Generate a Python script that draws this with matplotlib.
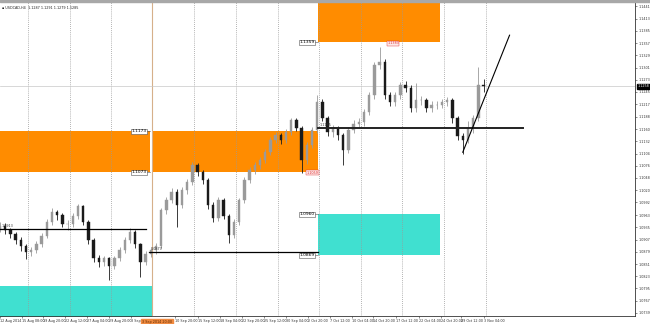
import matplotlib
matplotlib.use('Agg')
import matplotlib.pyplot as plt
from matplotlib.patches import Rectangle

#### USDCAD H4, one candle per 4 bars ####
first_open = 1.0930
closes = [1.0938, 1.0929, 1.0919, 1.0906, 1.0892, 1.0878, 1.0883, 1.0896, 1.0915, 1.0947,
          1.0970, 1.0963, 1.0942, 1.0942, 1.0961, 1.0983, 1.0947, 1.0906, 1.0864, 1.0855,
          1.0864, 1.0846, 1.0864, 1.0883, 1.0906, 1.0924, 1.0896, 1.0855, 1.0874, 1.0883,
          1.0892, 1.0974, 1.0997, 1.1016, 1.0986, 1.1020, 1.1038, 1.1077, 1.1061, 1.1043,
          1.0986, 1.0956, 1.0997, 1.0961, 1.0917, 1.0947, 1.0997, 1.1043, 1.1066, 1.1077,
          1.1089, 1.1107, 1.1135, 1.1146, 1.1135, 1.1153, 1.1180, 1.1162, 1.1089, 1.1123,
          1.1158, 1.1222, 1.1185, 1.1153, 1.1162, 1.1146, 1.1112, 1.1158, 1.1171, 1.1176,
          1.1199, 1.1238, 1.1306, 1.1313, 1.1238, 1.1222, 1.1238, 1.1261, 1.1254, 1.1208,
          1.1226, 1.1226, 1.1208, 1.1215, 1.1215, 1.1222, 1.1226, 1.1185, 1.1144, 1.1135,
          1.1162, 1.1185, 1.1261, 1.1258]
highs = [1.0948, 1.0945, 1.0933, 1.0924, 1.0912, 1.0897, 1.0890, 1.0903, 1.0921, 1.0953,
         1.0979, 1.0975, 1.0968, 1.0952, 1.0968, 1.0988, 1.0987, 1.0952, 1.0910, 1.0872,
         1.0870, 1.0868, 1.0870, 1.0890, 1.0912, 1.0933, 1.0930, 1.0900, 1.0880, 1.0890,
         1.0900, 1.0980, 1.1005, 1.1024, 1.1022, 1.1027, 1.1045, 1.1084, 1.1083, 1.1067,
         1.1048, 1.0992, 1.1004, 1.1003, 1.0966, 1.0953, 1.1003, 1.1050, 1.1073, 1.1085,
         1.1096, 1.1114, 1.1142, 1.1154, 1.1152, 1.1160, 1.1185, 1.1186, 1.1168, 1.1130,
         1.1165, 1.1238, 1.1230, 1.1190, 1.1170, 1.1168, 1.1152, 1.1165, 1.1180, 1.1185,
         1.1206, 1.1245, 1.1314, 1.1348, 1.1320, 1.1245, 1.1246, 1.1268, 1.1270, 1.1260,
         1.1265, 1.1235, 1.1232, 1.1224, 1.1225, 1.1230, 1.1234, 1.1232, 1.1190, 1.1150,
         1.1178, 1.1192, 1.1302, 1.1275]
lows = [1.0924, 1.0920, 1.0910, 1.0898, 1.0880, 1.0862, 1.0870, 1.0876, 1.0890, 1.0910,
        1.0940, 1.0952, 1.0935, 1.0930, 1.0936, 1.0955, 1.0940, 1.0898, 1.0855, 1.0845,
        1.0846, 1.0814, 1.0840, 1.0858, 1.0876, 1.0900, 1.0888, 1.0821, 1.0848, 1.0866,
        1.0875, 1.0886, 1.0965, 1.0990, 1.0935, 1.0980, 1.1012, 1.1032, 1.1052, 1.1035,
        1.0978, 1.0948, 1.0950, 1.0954, 1.0899, 1.0910, 1.0940, 1.0990, 1.1036, 1.1058,
        1.1068, 1.1082, 1.1100, 1.1128, 1.1126, 1.1128, 1.1146, 1.1155, 1.1060, 1.1080,
        1.1116, 1.1150, 1.1178, 1.1145, 1.1142, 1.1136, 1.1078, 1.1105, 1.1150, 1.1162,
        1.1168, 1.1192, 1.1230, 1.1298, 1.1230, 1.1212, 1.1214, 1.1230, 1.1245, 1.1200,
        1.1200, 1.1215, 1.1198, 1.1200, 1.1205, 1.1208, 1.1214, 1.1175, 1.1135, 1.1103,
        1.1128, 1.1150, 1.1178, 1.1245]
bars_per_candle = 4

#### supply / demand zones (bar index, price) ####
zone_start = [-10, 117.7, 244.6, -10, 244.6]
zone_end = [115.4, 244.6, 338.5, 117.0, 338.5]
zone_low = [1.1061, 1.1061, 1.1359, 1.0700, 1.0871]
zone_high = [1.1155, 1.1155, 1.1500, 1.0800, 1.0965]
zone_color = ['#ff8c00', '#ff8c00', '#ff8c00', '#40e0d0', '#40e0d0']

# price tags drawn at the left edge of zones
tag_bar = [115.4, 115.4, 244.6, 244.6, 244.6]
tag_price = [1.1155, 1.1061, 1.1359, 1.0965, 1.0871]
tag_text = ['1.1173', '1.1073', '1.1359', '1.0960', '1.0869']

#### horizontal levels ####
level_price = [1.0931, 1.0878, 1.1162]
level_start = [0, 115, 245]
level_end = [112, 245, 402]
level_text = ['1.0913', '1.0877', '1.1165']

#### trend line ####
trend_bars = [356, 392]
trend_prices = [1.1107, 1.1375]

#### axes ####
ytick_vals = [1.1441, 1.1413, 1.1385, 1.1357, 1.1329, 1.1301, 1.1273, 1.1245, 1.1217, 1.1188,
              1.1160, 1.1132, 1.1104, 1.1076, 1.1048, 1.1020, 1.0992, 1.0963, 1.0935, 1.0907,
              1.0879, 1.0851, 1.0823, 1.0795, 1.0767, 1.0739]
date_pos = [0, 17, 33, 50, 67, 84, 101, 135, 152, 169, 186, 203, 220, 237, 254, 271,
            287, 305, 322, 339, 355, 372]
date_labels = ['12 Aug 2014', '15 Aug 08:00', '19 Aug 20:00', '22 Aug 12:00', '27 Aug 04:00',
               '29 Aug 20:00', '3 Sep 12:00', '10 Sep 20:00', '15 Sep 12:00',
               '18 Sep 04:00', '22 Sep 20:00', '25 Sep 12:00', '30 Sep 04:00', '2 Oct 20:00',
               '7 Oct 12:00', '10 Oct 04:00', '14 Oct 20:00', '17 Oct 12:00', '22 Oct 04:00',
               '24 Oct 20:00', '29 Oct 12:00', '3 Nov 04:00']
grid_bars = [21.5, 53.5, 85.5, 149.5, 181.5, 213.5, 245.5, 277.5, 309.5, 341.5, 373.5]
vline_bar = 117.3


fig = plt.figure(figsize=(6.5, 3.24), dpi=100)
ax = fig.add_axes([0, 8/324., 635/650., 314/324.])
ax.set_xlim(0, 488.5)
ax.set_ylim(1.0732, 1.1451)

# zones in the background
for x0, x1, lo, hi, col in zip(zone_start, zone_end, zone_low, zone_high, zone_color):
    ax.fill_between([x0, x1], [lo, lo], [hi, hi], color=col, lw=0, zorder=1)

for gb in grid_bars:
    ax.axvline(gb, color='#9a9a9a', lw=0.6, ls=(0, (1, 1.5)), zorder=2)
ax.axvline(vline_bar, color='#d6b08a', lw=0.8, zorder=2)

# bid line
ax.axhline(closes[-1], color='#c8c8c8', lw=0.5, zorder=2)

# candles
opens = [first_open] + closes[:-1]
for i, (o, h, l, c) in enumerate(zip(opens, highs, lows, closes)):
    x = i*bars_per_candle
    col = '#9a9a9a' if c >= o else '#1a1a1a'
    ax.vlines(x, l, h, color=col, lw=0.6, zorder=3)
    ax.bar(x, max(abs(c - o), 0.00008), bottom=min(o, c), width=1.8,
           color=col, edgecolor=col, lw=0.3, zorder=4)

# levels
for p, x0, x1, t in zip(level_price, level_start, level_end, level_text):
    lw = 1.4 if x0 > 200 else 0.9
    ax.plot([x0, x1], [p, p], color='#222222' if x0 > 200 else 'black', lw=lw, zorder=5)
    ax.text(x0 + 1, p + 0.0002, t, fontsize=2.4, color='#333333', va='bottom', ha='left', zorder=6)

ax.plot(trend_bars, trend_prices, color='black', lw=0.8, zorder=5)

# zone price tags
for xb, p, t in zip(tag_bar, tag_price, tag_text):
    ax.text(xb - 2.5, p, t, fontsize=3.2, ha='right', va='center', zorder=7,
            bbox=dict(boxstyle='square,pad=0.12', fc='white', ec='#555555', lw=0.4))
    ax.plot([xb - 2.5, xb], [p, p], color='#555555', lw=0.4, zorder=7)

# high / low marks
ax.text(298, 1.1352, '1.1383', fontsize=2.4, color='#e03030', ha='left', va='bottom', zorder=7,
        bbox=dict(boxstyle='square,pad=0.1', fc='#fde8e8', ec='#e03030', lw=0.3))
ax.text(236, 1.1060, '1.1059', fontsize=2.4, color='#e03030', ha='left', va='center', zorder=7,
        bbox=dict(boxstyle='square,pad=0.1', fc='#fde8e8', ec='#e03030', lw=0.3))

# axes styling
for s in ['left', 'top']:
    ax.spines[s].set_visible(False)
for s in ['right', 'bottom']:
    ax.spines[s].set_color('#333333')
    ax.spines[s].set_linewidth(0.6)
ax.yaxis.tick_right()
ax.set_yticks(ytick_vals)
ax.set_yticklabels(['%.4f' % v for v in ytick_vals])
ax.set_xticks(date_pos)
ax.set_xticklabels(date_labels, ha='left')
ax.tick_params(axis='both', labelsize=2.4, length=1.5, width=0.4, pad=0.8, colors='#333333')

# current price and crosshair time tags
ax.text(1.004, closes[-1], '%.4f' % closes[-1], transform=ax.get_yaxis_transform(),
        fontsize=2.4, color='white', ha='left', va='center',
        bbox=dict(boxstyle='square,pad=0.15', fc='black', ec='black'))
ax.text(vline_bar - 8, -0.012, '3 Sep 2014 20:00', transform=ax.get_xaxis_transform(),
        fontsize=2.4, color='#5a2a00', ha='left', va='top',
        bbox=dict(boxstyle='square,pad=0.2', fc='#f08a40', ec='#f08a40'))

# window header
fig.patches.append(Rectangle((0, 1 - 2/324.), 1, 2/324., transform=fig.transFigure,
                             color='#a8a8a8', zorder=0))
fig.text(0.003, 0.983, u'\u25aa USDCAD,H4  1.1287 1.1291 1.1279 1.1285', fontsize=2.4,
         color='#222222', va='top', ha='left')

fig.savefig('out.png', dpi=100)
